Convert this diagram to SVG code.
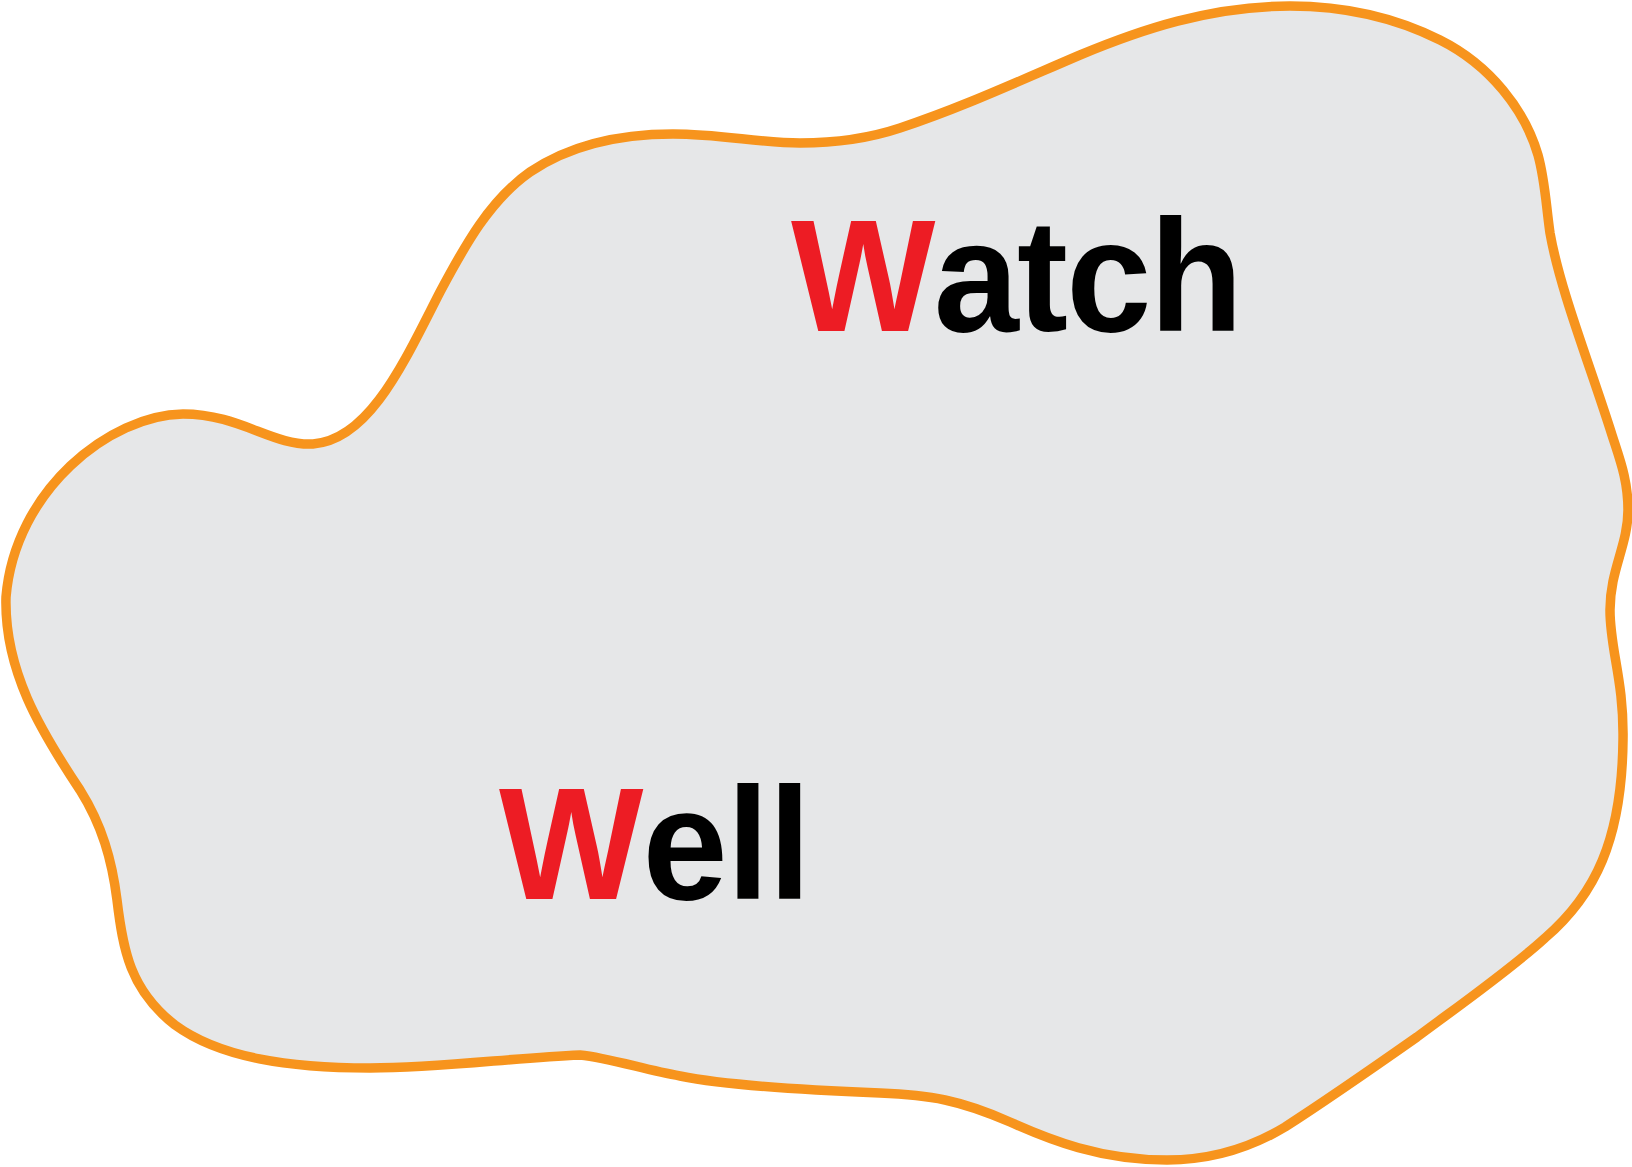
<svg xmlns="http://www.w3.org/2000/svg" width="1632" height="1167" viewBox="0 0 1632 1167">
<style>
.lbl{font-family:"Liberation Sans",Arial,sans-serif;font-weight:bold;font-size:153px;fill:#000}
.red{fill:#ED1C24}
.blob{fill:#E6E7E8;stroke:#F7941D;stroke-width:9.5;stroke-linejoin:round}
</style>
<rect width="1632" height="1167" fill="#FFFFFF"/>
<g id="blob">
<path class="blob" d="M 313 444 C 272 446 240 414 183 414 C 110 415 15 490 6 597 C 4 670 40 730 80 790 C 102 825 112 860 117 900 C 123 950 130 990 175 1025 C 220 1058 290 1068 370 1068 C 440 1068 510 1058 580 1055 C 610 1058 645 1070 680 1076 C 720 1084 800 1090 880 1093 C 930 1095 960 1100 1010 1122 C 1050 1140 1100 1160 1167 1160 C 1210 1160 1250 1148 1285 1127 C 1330 1098 1370 1070 1417 1037 C 1460 1005 1510 970 1545 938 C 1595 895 1622 840 1623 740 C 1624 680 1610 650 1610 610 C 1610 570 1628 545 1628 510 C 1628 480 1620 460 1612 435 C 1590 365 1560 290 1550 233 C 1546 205 1545 180 1538 155 C 1525 110 1490 65 1440 40 C 1400 20 1350 6 1290 6 C 1210 6 1140 30 1080 55 C 1010 85 960 108 900 128 C 870 138 840 143 800 143 C 760 143 720 134 673 134 C 620 134 570 145 530 172 C 490 200 465 245 440 292 C 405 360 370 440 313 444 Z"/>
</g>
<g id="watch">
<text class="lbl" transform="translate(791,331) scale(1,1.04)" x="0" y="0" textLength="452" lengthAdjust="spacing"><tspan class="red">W</tspan>atch</text>
</g>
<g id="well">
<text class="lbl" transform="translate(499,899) scale(1,1.04)" x="0" y="0" textLength="312" lengthAdjust="spacing"><tspan class="red">W</tspan>ell</text>
</g>
<g id="connectors"></g>
</svg>
